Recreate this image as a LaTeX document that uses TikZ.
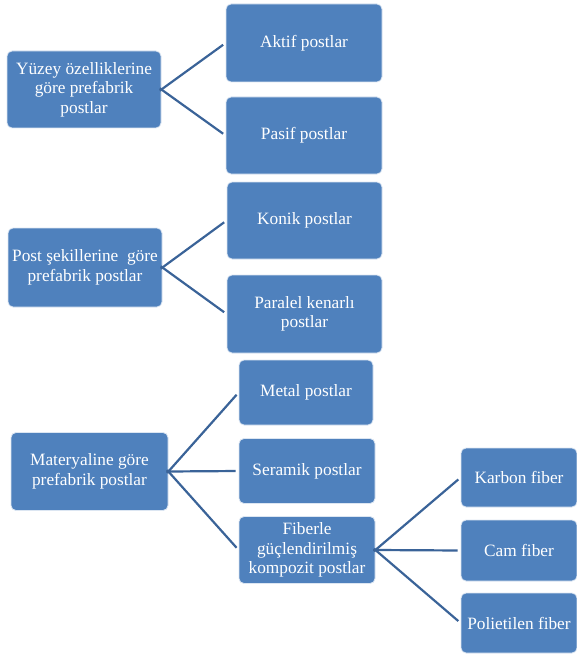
\documentclass[tikz,border=0pt]{standalone}
\usepackage{fontspec}
\setmainfont{Liberation Serif}
\definecolor{boxfill}{HTML}{4F81BD}
\definecolor{linkcol}{HTML}{3A6398}
\begin{document}
\begin{tikzpicture}[x=1pt,y=-1pt,
  box/.style={draw=white!80!boxfill, line width=0.8pt, fill=boxfill, rounded corners=5pt,
    text=white, align=center, inner sep=2pt,
    font=\fontsize{17.3}{19.5}\selectfont},
  link/.style={draw=linkcol, line width=2.2pt, shorten <=-2pt, shorten >=3pt}]
\useasboundingbox (0,0) rectangle (576,655);
% group 1
\node[box, minimum width=154, minimum height=77] (y) at (84,89.5) {Yüzey özelliklerine\\göre prefabrik\\postlar};
\node[box, minimum width=156, minimum height=78] (akt) at (304,43) {Aktif postlar};
\node[box, minimum width=156, minimum height=77] (pas) at (304,135.5) {Pasif postlar};
% group 2
\node[box, minimum width=154, minimum height=79] (ps) at (85,267.5) {Post şekillerine\ \ göre\\prefabrik postlar};
\node[box, minimum width=155, minimum height=77] (kon) at (304.5,220.5) {Konik postlar};
\node[box, minimum width=155, minimum height=78] (par) at (304.5,314) {Paralel kenarlı\\postlar};
% group 3
\node[box, minimum width=157, minimum height=78] (mat) at (89.5,471.5) {Materyaline göre\\prefabrik postlar};
\node[box, minimum width=134, minimum height=65] (met) at (306,392.5) {Metal postlar};
\node[box, minimum width=136, minimum height=65] (ser) at (307,471) {Seramik postlar};
\node[box, minimum width=136, minimum height=67] (fib) at (307,550) {Fiberle\\güçlendirilmiş\\kompozit postlar};
% group 4
\node[box, minimum width=116, minimum height=59] (kar) at (519,477.5) {Karbon fiber};
\node[box, minimum width=116, minimum height=61] (cam) at (519,550.5) {Cam fiber};
\node[box, minimum width=116, minimum height=60] (pol) at (519,623) {Polietilen fiber};
% connectors
\draw[link] (y.east) -- (akt.west);
\draw[link] (y.east) -- (pas.west);
\draw[link] (ps.east) -- (kon.west);
\draw[link] (ps.east) -- (par.west);
\draw[link] (mat.east) -- (met.west);
\draw[link] (mat.east) -- (ser.west);
\draw[link] (mat.east) -- (fib.west);
\draw[link] (fib.east) -- (kar.west);
\draw[link] (fib.east) -- (cam.west);
\draw[link] (fib.east) -- (pol.west);
\end{tikzpicture}
\end{document}
